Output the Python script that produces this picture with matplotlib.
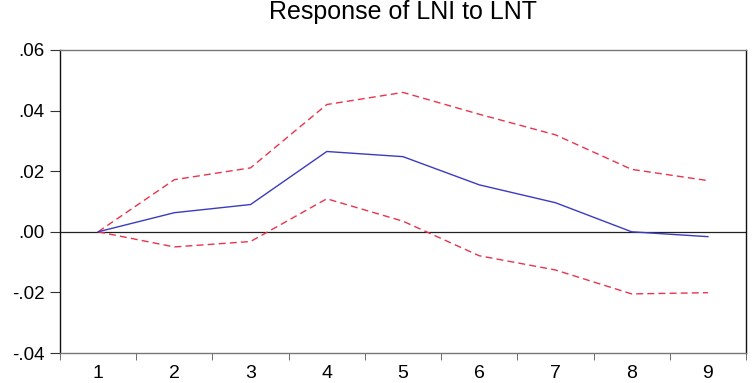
import matplotlib
matplotlib.use("Agg")
import matplotlib.pyplot as plt
import numpy as np

periods = [1, 2, 3, 4, 5, 6, 7, 8, 9]
response = [0.0, 0.0063, 0.0090, 0.0265, 0.0248, 0.0155, 0.0096, 0.0000, -0.0016]
upper = [0.0, 0.0172, 0.0211, 0.0420, 0.0460, 0.0388, 0.0320, 0.0206, 0.0169]
lower = [0.0, -0.0050, -0.0032, 0.0109, 0.0035, -0.0079, -0.0126, -0.0205, -0.0201]
ytick_vals = [-0.04, -0.02, 0.00, 0.02, 0.04, 0.06]
ytick_labels = ["-.04", "-.02", ".00", ".02", ".04", ".06"]
title = "Response of LNI to LNT"

plt.rcParams['font.family'] = ['Liberation Sans', 'DejaVu Sans']

fig = plt.figure(figsize=(7.54, 3.83), dpi=100)
ax = fig.add_axes([60/754, 30/383, 686/754, 303/383])

ax.axhline(0, color='#222222', lw=0.9, zorder=1)
ax.plot(periods, response, color='#3b3bbf', lw=1.0, zorder=3)
ax.plot(periods, upper, color='#e8344e', lw=1.0, ls=(0, (5, 3)), zorder=2)
ax.plot(periods, lower, color='#e8344e', lw=1.0, ls=(0, (5, 3)), zorder=2)

ax.set_xlim(0.5, 9.5)
ax.set_ylim(-0.04, 0.06)
ax.set_xticks(periods)
ax.set_xticklabels([str(p) for p in periods], fontsize=14)
ax.set_xticks(np.arange(0.5, 10, 1.0), minor=True)
ax.tick_params(axis='x', which='major', length=0, pad=9)
ax.tick_params(axis='x', which='minor', length=5, color='#555555', direction='out')
ax.set_yticks(ytick_vals)
ax.set_yticklabels(ytick_labels, fontsize=13.5)
ax.tick_params(axis='y', length=7, color='#333333', direction='out', pad=4)

ax.spines['top'].set_color('#777777')
ax.spines['bottom'].set_color('#777777')
ax.spines['left'].set_color('#111111')
ax.spines['right'].set_color('#111111')
for s in ax.spines.values():
    s.set_linewidth(1.0)

ax.set_title(title, fontsize=18, pad=22)

fig.savefig("out.png", dpi=100)
